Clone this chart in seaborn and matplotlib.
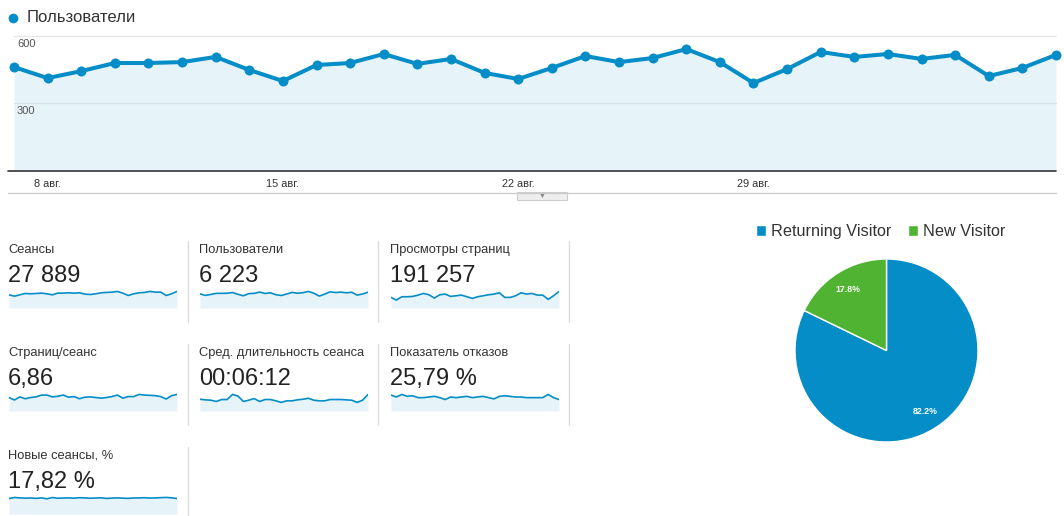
import matplotlib
matplotlib.use("Agg")
import matplotlib.pyplot as plt
from matplotlib.lines import Line2D
from matplotlib.patches import Rectangle
import pandas as pd
import seaborn as sns

# Taille de l'image en pixels
W, H = 1064, 516

dates = pd.date_range("2015-08-07", periods=32, freq="D")
users = [462, 413, 444, 480, 480, 484, 507, 449, 400, 471, 480, 520, 476, 498, 436, 409,
         458, 511, 484, 502, 542, 484, 391, 453, 529, 507, 520, 498, 516, 422, 458, 516]
sessions = [790, 709, 790, 871, 851, 871, 891, 851, 790, 891, 891, 911, 891, 911, 830, 810,
            851, 911, 932, 952, 992, 891, 749, 851, 911, 932, 992, 952, 952, 749, 851, 992]
pageviews = [5152, 3864, 5474, 5474, 5635, 6279, 7084, 6440, 4830, 6440, 6762, 5635, 5957, 6279, 5474, 4669,
             5474, 5957, 6440, 6762, 7406, 5152, 5152, 5957, 7406, 6762, 7084, 6279, 6279, 4186, 5957, 8050]
pages_per_session = [6.42, 5.25, 6.72, 5.84, 6.42, 6.72, 7.59, 7.59, 6.72, 7.01, 7.59, 6.57, 6.86, 5.84, 6.57, 6.72,
                     6.42, 6.13, 6.42, 6.86, 7.59, 6.13, 6.86, 6.86, 7.88, 7.59, 7.45, 7.30, 6.86, 5.69, 7.30, 7.88]
avg_duration = [392, 371, 360, 318, 382, 382, 551, 498, 318, 360, 413, 318, 382, 382, 339, 286,
                339, 339, 371, 392, 424, 360, 339, 339, 382, 382, 382, 371, 360, 286, 360, 551]
bounce_rate = [29.3, 25.8, 30.5, 27.0, 28.1, 24.6, 24.6, 25.8, 27.0, 24.6, 21.1, 25.8, 24.6, 25.8, 27.0, 24.6,
               25.8, 27.0, 24.6, 22.3, 27.0, 28.1, 27.0, 25.8, 25.8, 24.6, 24.6, 24.6, 24.6, 30.5, 24.6, 21.1]
new_sessions = [17.2, 18.4, 17.9, 17.6, 17.8, 17.4, 17.9, 16.9, 18.3, 17.5, 17.8, 17.9, 17.6, 18.1, 17.9, 17.5,
                17.8, 18.0, 17.3, 17.7, 17.9, 17.6, 17.4, 17.8, 17.9, 18.1, 17.7, 17.9, 18.2, 18.4, 18.0, 17.2]

tick_idx = [1, 8, 15, 22]
tick_labels = ["8 авг.", "15 авг.", "22 авг.", "29 авг."]
y_labels = [600, 300]

metric_names = ["Сеансы", "Пользователи", "Просмотры страниц",
                "Страниц/сеанс", "Сред. длительность сеанса", "Показатель отказов",
                "Новые сеансы, %"]
metric_totals = ["27 889", "6 223", "191 257", "6,86", "00:06:12", "25,79 %", "17,82 %"]
metric_series = [sessions, users, pageviews, pages_per_session, avg_duration, bounce_rate, new_sessions]

visitor_types = ["Returning Visitor", "New Visitor"]
visitor_share = [82.2, 17.8]

BLUE = "#058dc7"
GREEN = "#50b432"
FILL = "#e6f3f9"

sns.set_style("white")
plt.rcParams["font.family"] = ["Liberation Sans", "DejaVu Sans"]


def fx(px):
    return px / W


def fy(py):
    return 1 - py / H


fig = plt.figure(figsize=(W / 100, H / 100), dpi=100)

# --- Graphique principal : Пользователи ---
ax = fig.add_axes([fx(14), fy(171), fx(1056) - fx(14), fy(36) - fy(171)])
ax.fill_between(dates, users, color=FILL, zorder=0, lw=0)
ax.axhline(300, color="#d5e1e8", lw=0.9, zorder=1)
ax.axhline(600, color="#e6e6e6", lw=0.9, zorder=1, clip_on=False)
sns.lineplot(x=dates, y=users, ax=ax, color=BLUE, lw=2.9, marker="o",
             markersize=7.2, markeredgewidth=0, zorder=3)
for ln in ax.lines:
    ln.set_clip_on(False)
ax.set_xlim(dates[0], dates[-1])
ax.set_ylim(0, 600)
ax.set_xticks(dates[tick_idx])
ax.set_xticklabels(tick_labels)
ax.tick_params(axis="x", length=0, pad=5.5, labelsize=7.9, labelcolor="#333333")
ax.set_yticks([])
ax.set_xlabel("")
ax.set_ylabel("")
for v in y_labels:
    ax.annotate(str(v), xy=(0, v), xycoords=("axes fraction", "data"),
                xytext=(3, -3), textcoords="offset pixels",
                ha="left", va="top", fontsize=8, color="#555555")
sns.despine(ax=ax, left=True, bottom=True)

# axe du bas, titre et séparateur
fig.add_artist(Line2D([fx(8), fx(1056)], [fy(171), fy(171)], color="#333333", lw=1.2))
fig.add_artist(Line2D([fx(13)], [fy(17.5)], marker="o", markersize=7, color=BLUE,
                      markeredgewidth=0, linestyle="none"))
fig.text(fx(27), fy(17.5), "Пользователи", fontsize=12, color="#333333", va="center")
fig.add_artist(Line2D([fx(8), fx(1056)], [fy(192.5), fy(192.5)], color="#cccccc", lw=1))
fig.add_artist(Rectangle((fx(517), fy(200)), fx(50), 8 / H, transform=fig.transFigure,
                         facecolor="#eeeeee", edgecolor="#cccccc", lw=0.8))
fig.text(fx(542), fy(196.3), "▼", fontsize=5, color="#888888", ha="center", va="center")

# --- Petits indicateurs ---
col_x = [8, 199, 390]
row_top = [241, 344, 447]
for i, (name, total, series) in enumerate(zip(metric_names, metric_totals, metric_series)):
    r, c = divmod(i, 3)
    x0 = col_x[c]
    top = row_top[r]
    fig.text(fx(x0), fy(top + 9), name, fontsize=9.3, color="#333333", va="center")
    fig.text(fx(x0), fy(top + 35), total, fontsize=17, color="#222222", va="center")
    sp = fig.add_axes([fx(x0 + 1), fy(top + 67), fx(168), 24 / H])
    sp.fill_between(dates, series, color=FILL, lw=0)
    sns.lineplot(x=dates, y=series, ax=sp, color=BLUE, lw=1.2)
    sp.set_xlim(dates[0], dates[-1])
    sp.set_ylim(0, max(series) * 1.45)
    sp.axis("off")

sep_rows = [(241, 322, [188, 378, 569]), (344, 425, [188, 378, 569]), (447, 516, [188])]
for y0, y1, xs in sep_rows:
    for xs_ in xs:
        fig.add_artist(Line2D([fx(xs_), fx(xs_)], [fy(y0), fy(y1)], color="#dddddd", lw=1))

# --- Camembert ---
r_px = 91.5
cx, cy = 886.5, 350.5
axp = fig.add_axes([fx(cx - r_px), fy(cy + r_px), 2 * r_px / W, 2 * r_px / H])
wedges, _, autotexts = axp.pie(visitor_share, colors=[BLUE, GREEN], startangle=90,
                               counterclock=False, autopct="%.1f%%", pctdistance=0.79,
                               wedgeprops=dict(edgecolor="white", linewidth=1),
                               textprops=dict(color="white", fontsize=6.3, fontweight="bold"))
axp.set_xlim(-1, 1)
axp.set_ylim(-1, 1)
axp.legend(wedges, visitor_types, ncol=2, loc="center",
           bbox_to_anchor=(fx(880.5), fy(231.5)), bbox_transform=fig.transFigure,
           frameon=False, fontsize=11.7, handlelength=0.65, handleheight=0.65,
           handletextpad=0.3, columnspacing=1.0, borderpad=0, labelcolor="#333333")

fig.savefig("out.png", dpi=100)
